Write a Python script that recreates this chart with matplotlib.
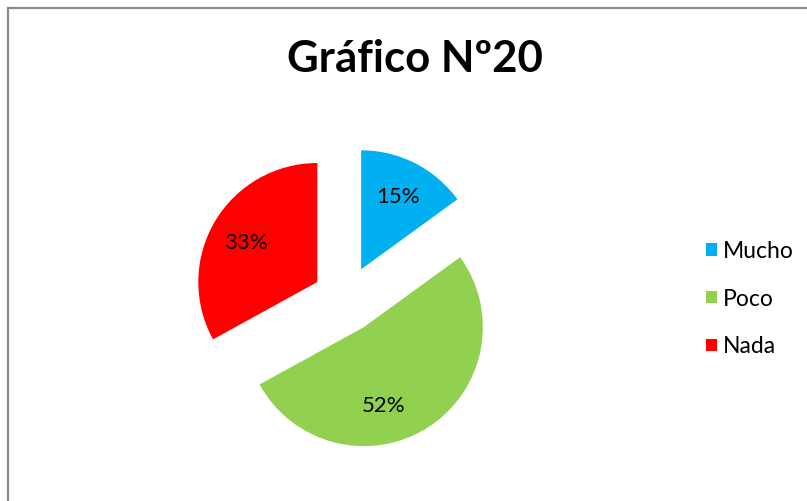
import numpy as np
import matplotlib
matplotlib.use("Agg")
import matplotlib.pyplot as plt
from matplotlib.patches import Rectangle
from matplotlib.lines import Line2D

categories = ["Mucho", "Poco", "Nada"]
values = [15, 52, 33]
colors = ["#00B0F0", "#92D050", "#FF0000"]
title = "Gráfico Nº20"

W, H = 807, 501
fig = plt.figure(figsize=(W / 100, H / 100), dpi=100)
plt.rcParams['font.family'] = ['Lato', 'DejaVu Sans']

# border (top and left visible)
fig.add_artist(Line2D([8 / W, 8 / W], [0, 1 - 8 / H], transform=fig.transFigure,
                      color="#8c8c8c", lw=1.6))
fig.add_artist(Line2D([8 / W, 1], [1 - 8 / H, 1 - 8 / H], transform=fig.transFigure,
                      color="#8c8c8c", lw=1.6))

ax = fig.add_axes([0, 0, 1, 1])
cx, cy, r = 346, 299, 119  # pixel centre and radius
explode = [0.28] * len(values)
wedges, texts, autotexts = ax.pie(
    values, colors=colors, startangle=90, counterclock=False,
    explode=explode, radius=1, center=(0, 0),
    autopct=lambda p: f"{p:.0f}%", pctdistance=0.68,
    textprops=dict(fontsize=16, color="black"))
ax.set_xlim(-cx / r, (W - cx) / r)
ax.set_ylim(-(H - cy) / r, cy / r)
ax.set_aspect('auto')
ax.axis('off')

# Excel-like label placement for the large slice
label_angle_shift = [0, -18, 2]
for w, t, e, s in zip(wedges, autotexts, explode, label_angle_shift):
    mid = np.deg2rad((w.theta1 + w.theta2) / 2)
    ax0, ay0 = e * np.cos(mid), e * np.sin(mid)
    a = mid + np.deg2rad(s)
    t.set_position((ax0 + 0.68 * np.cos(a), ay0 + 0.68 * np.sin(a)))

fig.text(415 / W, 1 - 59 / H, title, ha="center", va="center",
         fontsize=31.5, fontweight="bold")

handles = [Rectangle((0, 0), 1, 1, facecolor=c, edgecolor="none") for c in colors]
fig.legend(handles, categories, loc="center left", bbox_to_anchor=(695 / W, 1 - 299 / H),
           frameon=False, fontsize=16.5, handlelength=0.45, handleheight=0.45,
           handletextpad=0.28, labelspacing=1.17, borderpad=0)

fig.savefig("out.png", dpi=100)
